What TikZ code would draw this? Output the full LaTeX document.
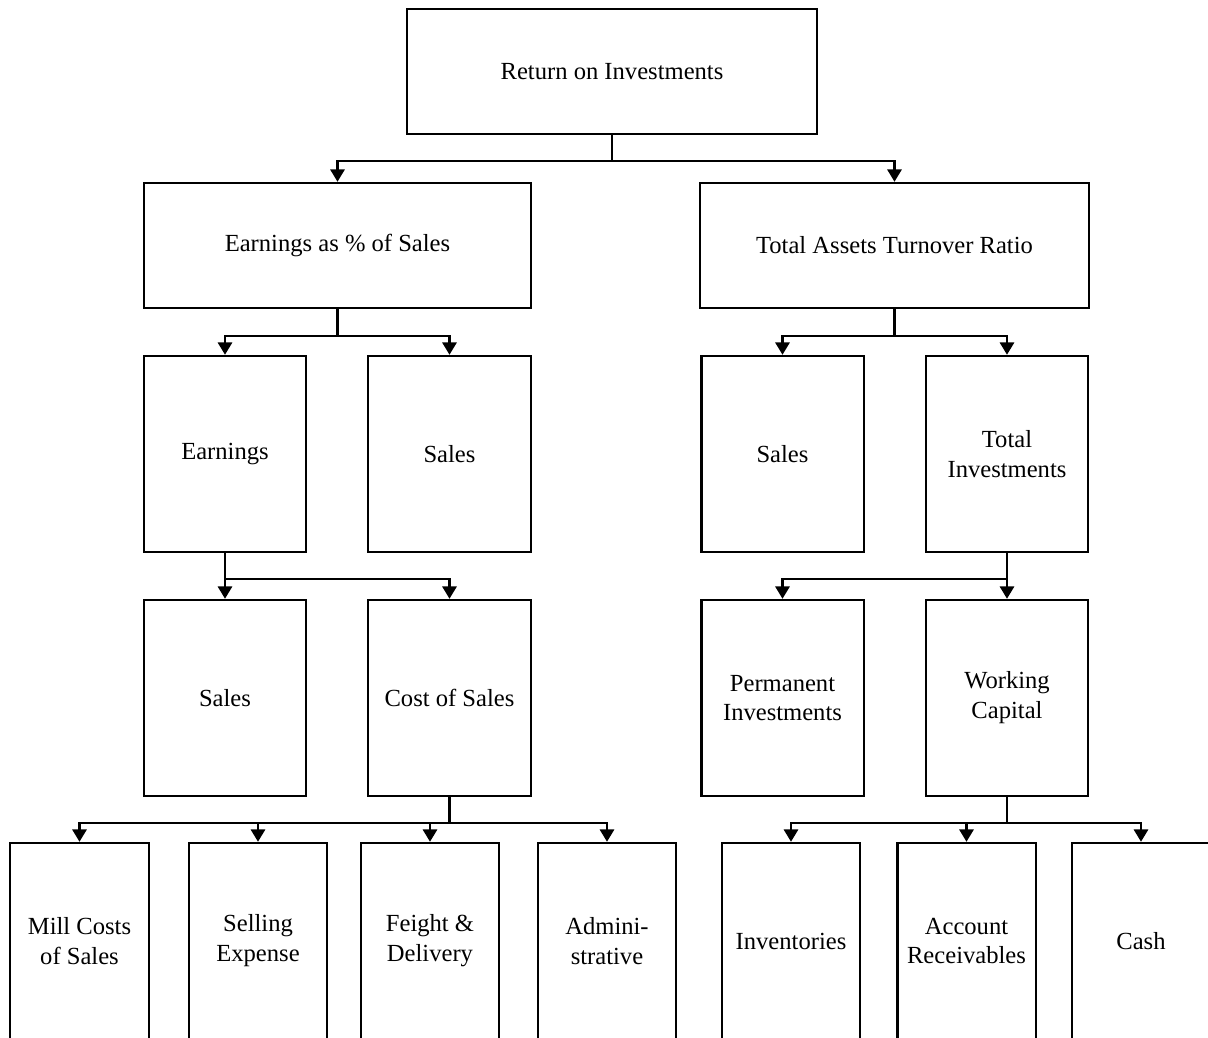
\documentclass[tikz,border=0pt]{standalone}
\usepackage{fontspec}
\setmainfont{Liberation Serif}
\usetikzlibrary{arrows.meta}
\tikzstyle{rbox}=[rectangle, draw, line width=1.4pt, align=center, inner sep=2pt, font=\fontsize{14}{17}\selectfont]
\tikzstyle{arr}=[line width=1.4pt, -{Triangle[width=8pt,length=7pt]}]
\newcommand{\rbox}{\node[rbox]}

\begin{document}
\begin{tikzpicture}[x=0.02cm, y=-0.02cm]
\path[use as bounding box, clip] (0,0) rectangle (1208,1038);
%top
\rbox[minimum width=8.2cm, minimum height=2.5cm] (roi) at (612,71.5){Return on Investments};
%ratios
\rbox[minimum width=7.74cm, minimum height=2.5cm] (eps) at (337.5,245.5){Earnings as \% of Sales};
\rbox[minimum width=7.78cm, minimum height=2.5cm] (tat) at (894.5,245.5){Total Assets Turnover Ratio};
%third row
\rbox[minimum width=3.25cm, minimum height=3.92cm] (earn) at (225,454){Earnings};
\rbox[minimum width=3.25cm, minimum height=3.92cm] (sales1) at (449.5,454){Sales};
\rbox[minimum width=3.25cm, minimum height=3.92cm] (sales2) at (782.5,454){Sales};
\rbox[minimum width=3.25cm, minimum height=3.92cm] (tinv) at (1007,454){Total\\Investments};
%fourth row
\rbox[minimum width=3.25cm, minimum height=3.92cm] (sales3) at (225,698){Sales};
\rbox[minimum width=3.25cm, minimum height=3.92cm] (cos) at (449.5,698){Cost of Sales};
\rbox[minimum width=3.25cm, minimum height=3.92cm] (pinv) at (782.5,698){Permanent\\Investments};
\rbox[minimum width=3.25cm, minimum height=3.92cm] (wcap) at (1007,698){Working\\Capital};
%bottom row
\rbox[minimum width=2.77cm, minimum height=3.92cm] (mill) at (79.5,941){Mill Costs\\of Sales};
\rbox[minimum width=2.77cm, minimum height=3.92cm] (sell) at (258,941){Selling\\Expense};
\rbox[minimum width=2.77cm, minimum height=3.92cm] (frt) at (430,941){Feight \&\\Delivery};
\rbox[minimum width=2.77cm, minimum height=3.92cm] (adm) at (607,941){Admini-\\strative};
\rbox[minimum width=2.77cm, minimum height=3.92cm] (inv) at (791,941){Inventories};
\rbox[minimum width=2.77cm, minimum height=3.92cm] (acr) at (966.5,941){Account\\Receivables};
\rbox[minimum width=2.77cm, minimum height=3.92cm] (cash) at (1141,941){Cash};
%links
\foreach \n in {eps,tat}
	\draw[arr] (roi.south) -- ++(0,26) -| (\n.north);
\foreach \n in {earn,sales1}
	\draw[arr] (eps.south) -- ++(0,27) -| (\n.north);
\foreach \n in {sales2,tinv}
	\draw[arr] (tat.south) -- ++(0,27) -| (\n.north);
\draw[arr] (earn) -- (sales3);
\draw[arr] (earn.south) -- ++(0,26) -| (cos.north);
\draw[arr] (tinv) -- (wcap);
\draw[arr] (tinv.south) -- ++(0,26) -| (pinv.north);
\foreach \n in {mill,sell,frt,adm}
	\draw[arr] (cos.south) -- ++(0,26) -| (\n.north);
\foreach \n in {inv,acr,cash}
	\draw[arr] (wcap.south) -- ++(0,26) -| (\n.north);
\end{tikzpicture}
\end{document}
